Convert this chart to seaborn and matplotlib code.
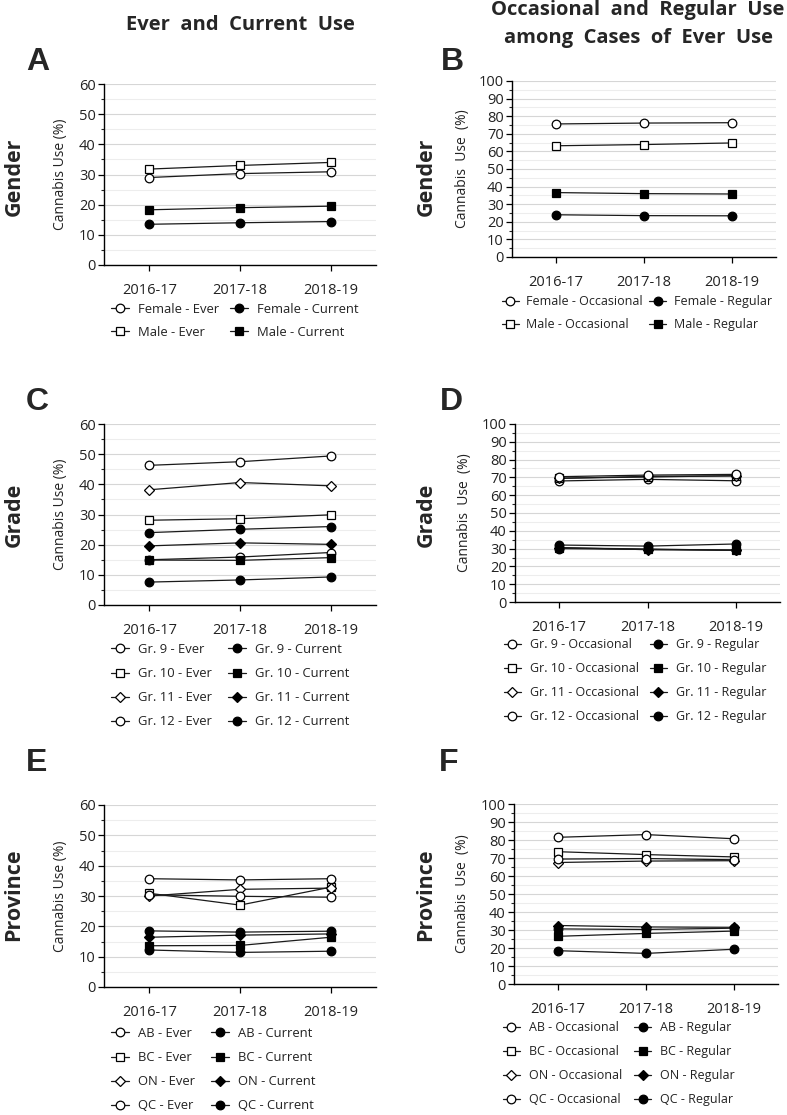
import matplotlib
matplotlib.use('Agg')
import matplotlib.pyplot as plt
import seaborn as sns
import pandas as pd
from matplotlib.ticker import MultipleLocator

years = ['2016-17', '2017-18', '2018-19']

# A - gender, ever / current use
female_ever = [29.0, 30.3, 30.9]
male_ever = [31.8, 33.0, 34.0]
female_current = [13.5, 14.0, 14.4]
male_current = [18.3, 19.0, 19.5]

# B - gender, occasional / regular among ever users
female_occ = [75.6, 76.1, 76.3]
male_occ = [63.2, 63.9, 64.8]
female_reg = [24.0, 23.5, 23.4]
male_reg = [36.6, 36.0, 35.8]

# C - grade, ever / current
gr9_ever = [15.0, 15.9, 17.4]
gr10_ever = [28.1, 28.6, 29.9]
gr11_ever = [38.2, 40.6, 39.5]
gr12_ever = [46.3, 47.5, 49.4]
gr9_current = [7.6, 8.3, 9.3]
gr10_current = [14.9, 14.8, 15.7]
gr11_current = [19.6, 20.6, 20.1]
gr12_current = [24.0, 25.1, 26.0]

# D - grade, occasional / regular
gr9_occ = [68.0, 68.9, 68.1]
gr10_occ = [69.6, 70.2, 71.0]
gr11_occ = [69.4, 70.6, 70.8]
gr12_occ = [70.4, 71.3, 71.7]
gr9_reg = [32.0, 31.4, 32.6]
gr10_reg = [30.4, 29.8, 29.0]
gr11_reg = [30.6, 29.4, 29.2]
gr12_reg = [30.0, 29.5, 29.1]

# E - province, ever / current
ab_ever = [35.7, 35.3, 35.7]
bc_ever = [30.9, 27.0, 32.9]
on_ever = [30.0, 32.2, 32.6]
qc_ever = [30.4, 29.9, 29.6]
ab_current = [18.5, 18.1, 18.4]
bc_current = [13.6, 13.7, 16.4]
on_current = [16.4, 17.1, 17.5]
qc_current = [12.2, 11.4, 11.8]

# F - province, occasional / regular
ab_occ = [81.5, 83.0, 80.7]
bc_occ = [73.5, 71.9, 70.6]
on_occ = [67.5, 68.3, 68.5]
qc_occ = [69.4, 69.7, 69.0]
ab_reg = [18.5, 17.0, 19.3]
bc_reg = [26.5, 28.1, 29.4]
on_reg = [32.5, 31.7, 31.5]
qc_reg = [30.6, 30.3, 31.0]

sns.set_theme(style='ticks')
plt.rcParams['font.family'] = ['Open Sans', 'DejaVu Sans']
plt.rcParams['axes.edgecolor'] = 'black'

W, H = 787, 1115
fig = plt.figure(figsize=(W / 100, H / 100), dpi=100)


def px_axes(l, r, t, b):
    return fig.add_axes([l / W, 1 - b / H, (r - l) / W, (b - t) / H])


def draw(ax, series, ymax, ylab_x, ylab):
    for label, vals, marker, filled in series:
        ms = 5.4 if marker == 'D' else 6.2
        sns.lineplot(x=years, y=vals, ax=ax, label=label, color='#1a1a1a',
                     lw=0.9, marker=marker, markersize=ms,
                     markerfacecolor='black' if filled else 'white',
                     markeredgecolor='black', markeredgewidth=0.9)
    ax.set_xlim(-0.5, 2.5)
    ax.set_ylim(0, ymax)
    ax.yaxis.set_major_locator(MultipleLocator(10))
    ax.yaxis.set_minor_locator(MultipleLocator(5))
    ax.grid(axis='y', which='major', color='#d6d6d6', lw=0.8)
    ax.grid(axis='y', which='minor', color='#ededed', lw=0.8)
    ax.get_ygridlines()[-1].set_visible(False)
    ax.set_axisbelow(True)
    sns.despine(ax=ax)
    for s in ['left', 'bottom']:
        ax.spines[s].set_linewidth(1.0)
    ax.tick_params(axis='both', which='major', length=4, width=0.9,
                   labelsize=10.5, colors='black', pad=2, labelcolor='#222222')
    ax.tick_params(axis='y', which='minor', length=2.5, width=0.8, left=True)
    ax.tick_params(axis='x', pad=9)
    ax.set_xlabel('')
    ax.set_ylabel(ylab, fontsize=10, color='#222222')
    ax.yaxis.set_label_coords(ylab_x, 0.5)
    ax.get_legend().remove()


def legend(ax, x, y, spacing, colsp, fs=9.4, pad=0.75):
    ax.legend(loc='upper left', bbox_to_anchor=(x / W, 1 - y / H),
              bbox_transform=fig.transFigure, ncol=2, frameon=False,
              fontsize=fs, handlelength=1.35, handletextpad=pad,
              columnspacing=colsp, labelspacing=spacing, borderpad=0,
              borderaxespad=0, labelcolor='#222222')


left_lab = 'Cannabis Use (%)'
right_lab = 'Cannabis  Use  (%)'

axA = px_axes(104, 376, 84, 265)
draw(axA, [('Female - Ever', female_ever, 'o', False),
           ('Male - Ever', male_ever, 's', False),
           ('Female - Current', female_current, 'o', True),
           ('Male - Current', male_current, 's', True)], 60, -36 / 272, left_lab)
legend(axA, 111, 303, 0.75, 0.8)

axB = px_axes(512, 776, 81, 257)
draw(axB, [('Female - Occasional', female_occ, 'o', False),
           ('Male - Occasional', male_occ, 's', False),
           ('Female - Regular', female_reg, 'o', True),
           ('Male - Regular', male_reg, 's', True)], 100, -42 / 264, right_lab)
legend(axB, 502, 295, 0.8, 0.5, fs=9.0, pad=0.6)

axC = px_axes(104, 376, 424, 605)
draw(axC, [('Gr. 9 - Ever', gr9_ever, 'o', False),
           ('Gr. 10 - Ever', gr10_ever, 's', False),
           ('Gr. 11 - Ever', gr11_ever, 'D', False),
           ('Gr. 12 - Ever', gr12_ever, 'o', False),
           ('Gr. 9 - Current', gr9_current, 'o', True),
           ('Gr. 10 - Current', gr10_current, 's', True),
           ('Gr. 11 - Current', gr11_current, 'D', True),
           ('Gr. 12 - Current', gr12_current, 'o', True)], 60, -36 / 272, left_lab)
legend(axC, 111, 643, 0.85, 1.2)

axD = px_axes(515, 780, 424, 602)
draw(axD, [('Gr. 9 - Occasional', gr9_occ, 'o', False),
           ('Gr. 10 - Occasional', gr10_occ, 's', False),
           ('Gr. 11 - Occasional', gr11_occ, 'D', False),
           ('Gr. 12 - Occasional', gr12_occ, 'o', False),
           ('Gr. 9 - Regular', gr9_reg, 'o', True),
           ('Gr. 10 - Regular', gr10_reg, 's', True),
           ('Gr. 11 - Regular', gr11_reg, 'D', True),
           ('Gr. 12 - Regular', gr12_reg, 'o', True)], 100, -43 / 265, right_lab)
legend(axD, 504, 638, 0.88, 0.9, fs=9.0, pad=0.7)

axE = px_axes(104, 376, 805, 987)
draw(axE, [('AB - Ever', ab_ever, 'o', False),
           ('BC - Ever', bc_ever, 's', False),
           ('ON - Ever', on_ever, 'D', False),
           ('QC - Ever', qc_ever, 'o', False),
           ('AB - Current', ab_current, 'o', True),
           ('BC - Current', bc_current, 's', True),
           ('ON - Current', on_current, 'D', True),
           ('QC - Current', qc_current, 'o', True)], 60, -36 / 272, left_lab)
legend(axE, 111, 1027, 0.85, 1.2)

axF = px_axes(514, 778, 804, 984)
draw(axF, [('AB - Occasional', ab_occ, 'o', False),
           ('BC - Occasional', bc_occ, 's', False),
           ('ON - Occasional', on_occ, 'D', False),
           ('QC - Occasional', qc_occ, 'o', False),
           ('AB - Regular', ab_reg, 'o', True),
           ('BC - Regular', bc_reg, 's', True),
           ('ON - Regular', on_reg, 'D', True),
           ('QC - Regular', qc_reg, 'o', True)], 100, -44 / 264, right_lab)
legend(axF, 503, 1021, 0.88, 1.0, fs=9.0, pad=0.7)

# column titles
fig.text(240 / W, 1 - 25 / H, 'Ever  and  Current  Use', ha='center', va='center',
         fontsize=14.5, fontweight='bold')
fig.text(638 / W, 1 - 10 / H, 'Occasional  and  Regular  Use', ha='center', va='center',
         fontsize=14.5, fontweight='bold')
fig.text(638 / W, 1 - 38 / H, 'among  Cases  of  Ever  Use', ha='center', va='center',
         fontsize=14.5, fontweight='bold')

# panel letters
for letter, x, y in [('A', 38, 62), ('B', 452, 62), ('C', 37, 402),
                     ('D', 451, 402), ('E', 37, 763), ('F', 449, 763)]:
    fig.text(x / W, 1 - y / H, letter, ha='center', va='center', fontsize=23,
             fontweight='bold', family='Liberation Sans')

# row labels
for name, y in [('Gender', 177), ('Grade', 515), ('Province', 895)]:
    for x in (14, 426):
        fig.text(x / W, 1 - y / H, name, ha='center', va='center', rotation=90,
                 fontsize=15.5, fontweight='bold')

fig.savefig('out.png', dpi=100)
